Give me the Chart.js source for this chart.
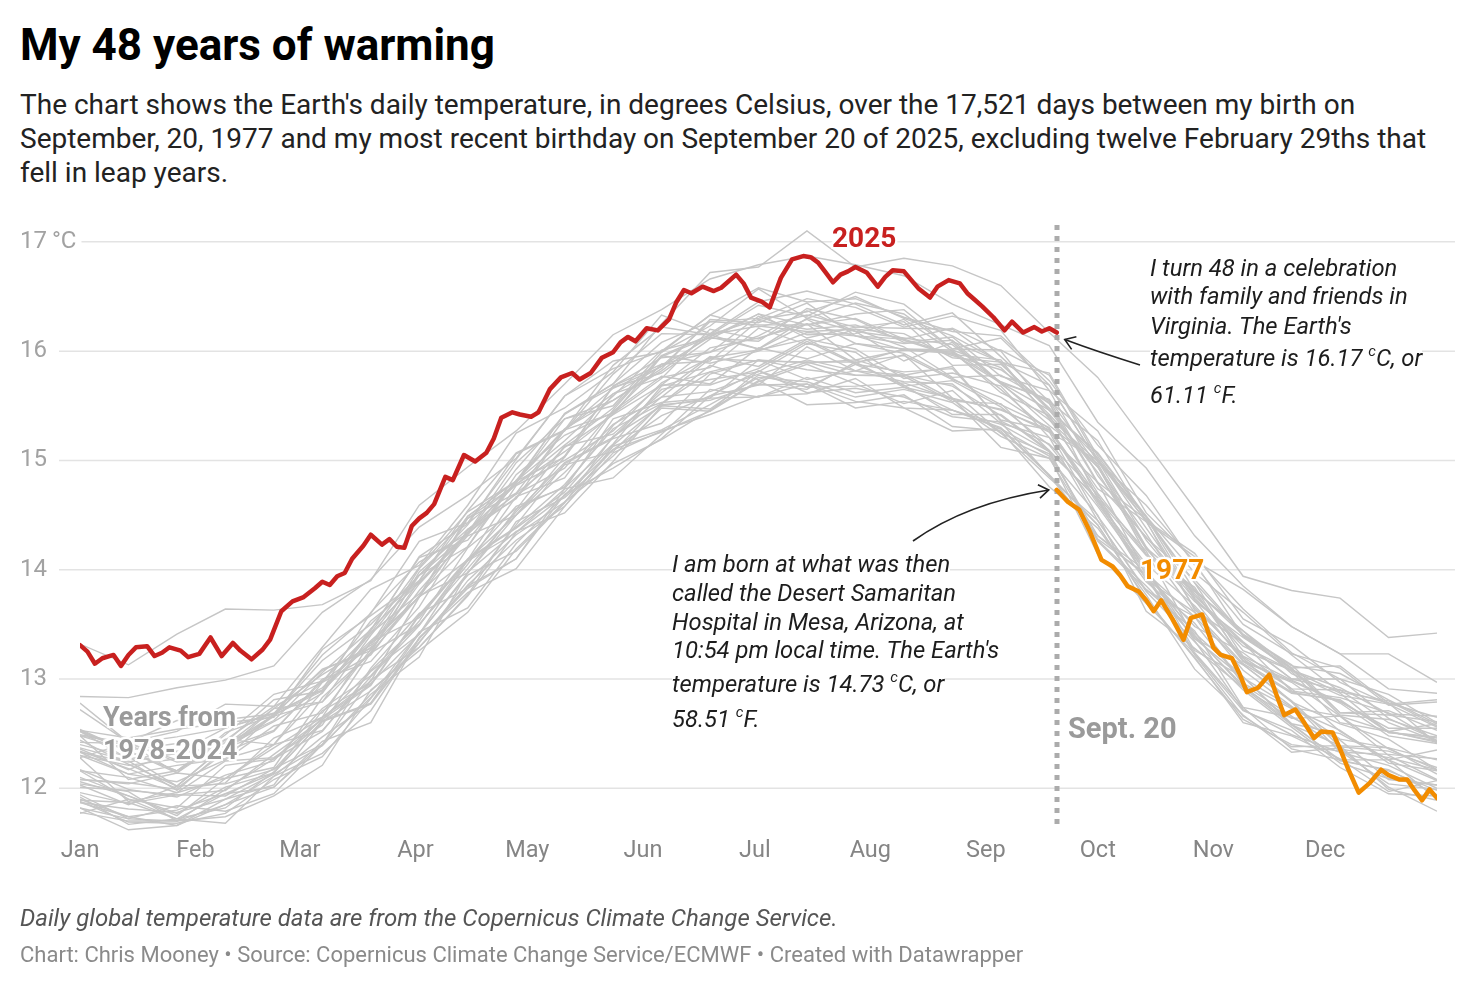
<!DOCTYPE html>
<html>
<head>
<meta charset="utf-8">
<script src="https://cdn.jsdelivr.net/npm/chart.js@4.4.1/dist/chart.umd.min.js"></script>
<style>
  body { margin: 0; width: 1476px; height: 988px; position: relative; overflow: hidden; background: #fff; font-family: Roboto, "Noto Sans", sans-serif; }
  #title { position: absolute; left: 20px; top: 20px; font-size: 44px; line-height: 50px; font-weight: 700; color: #000; white-space: nowrap; }
  #subtitle { position: absolute; left: 20px; top: 88px; font-size: 28px; line-height: 34px; color: #222; white-space: nowrap; }
  #chart { position: absolute; left: 0; top: 0; }
  .ln { position: absolute; font-style: italic; font-size: 23.8px; line-height: 28px; color: #1d1d1d; white-space: nowrap; }
  .ln span { background: #fff; }
  .ln sup { font-size: 15px; line-height: 0; vertical-align: 10px; }
  .tag { position: absolute; font-weight: 700; white-space: nowrap;
    text-shadow: 2px 2px 0 #fff, -2px -2px 0 #fff, 2px -2px 0 #fff, -2px 2px 0 #fff, 0 2px 0 #fff, 2px 0 0 #fff, 0 -2px 0 #fff, -2px 0 0 #fff, 0 0 5px #fff, 0 0 5px #fff; }
  .foot1 { position: absolute; left: 20px; top: 905px; font-size: 24px; line-height: 26px; font-style: italic; color: #555; white-space: nowrap; }
  .foot2 { position: absolute; left: 20px; top: 942px; font-size: 22px; line-height: 26px; color: #8a8a8a; white-space: nowrap; }
</style>
</head>
<body>
<div id="title">My 48 years of warming</div>
<div id="subtitle">The chart shows the Earth's daily temperature, in degrees Celsius, over the 17,521 days between my birth on<br>September, 20, 1977 and my most recent birthday on September 20 of 2025, excluding twelve February 29ths that<br>fell in leap years.</div>

<canvas id="chart" width="1476" height="988"></canvas>

<div class="ln" style="left:1150px; top:254px;"><span>I turn 48 in a celebration</span></div>
<div class="ln" style="left:1150px; top:282px;"><span>with family and friends in</span></div>
<div class="ln" style="left:1150px; top:312px;"><span>Virginia. The Earth's</span></div>
<div class="ln" style="left:1150px; top:344px;"><span>temperature is 16.17 <sup>c</sup>C, or</span></div>
<div class="ln" style="left:1150px; top:381px;"><span>61.11 <sup>c</sup>F.</span></div>

<div class="ln" style="left:672px; top:550px;"><span>I am born at what was then</span></div>
<div class="ln" style="left:672px; top:579px;"><span>called the Desert Samaritan</span></div>
<div class="ln" style="left:672px; top:608px;"><span>Hospital in Mesa, Arizona, at</span></div>
<div class="ln" style="left:672px; top:636px;"><span>10:54 pm local time. The Earth's</span></div>
<div class="ln" style="left:672px; top:670px;"><span>temperature is 14.73 <sup>c</sup>C, or</span></div>
<div class="ln" style="left:672px; top:705px;"><span>58.51 <sup>c</sup>F.</span></div>

<div class="tag" style="left:832px; top:222px; font-size:28px; line-height:32px; color:#c8201f;">2025</div>
<div class="tag" style="left:1140px; top:554px; font-size:28px; line-height:32px; color:#f28c00;">1977</div>
<div class="tag" style="left:103px; top:701px; font-size:27px; line-height:33px; color:#9a9a9a;">Years from<br>1978-2024</div>
<div class="tag" style="left:1068px; top:711px; font-size:29px; line-height:34px; color:#9a9a9a;">Sept. 20</div>

<div class="foot1">Daily global temperature data are from the Copernicus Climate Change Service.</div>
<div class="foot2">Chart: Chris Mooney • Source: Copernicus Climate Change Service/ECMWF • Created with Datawrapper</div>

<script>
// axis labels
const monthDays = [0, 31, 59, 90, 120, 151, 181, 212, 243, 273, 304, 334];
const monthLabels = ["Jan", "Feb", "Mar", "Apr", "May", "Jun", "Jul", "Aug", "Sep", "Oct", "Nov", "Dec"];
const yTicks = [17, 16, 15, 14, 13, 12];
const yTickLabels = ["17\u2009°C", "16", "15", "14", "13", "12"];
const birthdayDay = 262;

// 2025, Jan 1 to Sept 20 (day of year, °C)
const redDays = [0, 2, 4, 6, 9, 11, 13, 15, 18, 20, 22, 24, 27, 29, 32, 35, 38, 41, 43, 46, 49, 51, 54, 57, 60, 63, 65, 67, 69, 71, 73, 76, 78, 81, 83, 85, 87, 89, 91, 93, 95, 98, 100, 103, 106, 109, 111, 113, 116, 118, 121, 123, 126, 129, 132, 134, 137, 140, 143, 145, 147, 149, 152, 155, 158, 160, 162, 164, 167, 170, 172, 176, 178, 180, 183, 185, 188, 191, 194, 196, 198, 200, 202, 204, 206, 208, 211, 214, 216, 218, 221, 223, 225, 228, 230, 233, 236, 238, 240, 242, 245, 248, 250, 253, 256, 258, 260, 262];
const redTemps = [13.31, 13.25, 13.14, 13.19, 13.22, 13.12, 13.22, 13.29, 13.30, 13.21, 13.24, 13.29, 13.26, 13.20, 13.23, 13.38, 13.21, 13.33, 13.26, 13.18, 13.27, 13.36, 13.62, 13.71, 13.75, 13.83, 13.89, 13.86, 13.94, 13.97, 14.10, 14.22, 14.32, 14.23, 14.28, 14.21, 14.20, 14.40, 14.47, 14.52, 14.60, 14.85, 14.82, 15.05, 14.99, 15.07, 15.20, 15.39, 15.44, 15.42, 15.40, 15.44, 15.65, 15.76, 15.80, 15.74, 15.80, 15.94, 15.99, 16.08, 16.13, 16.09, 16.21, 16.19, 16.29, 16.45, 16.56, 16.53, 16.59, 16.55, 16.58, 16.70, 16.62, 16.49, 16.45, 16.40, 16.67, 16.84, 16.87, 16.86, 16.81, 16.72, 16.63, 16.70, 16.73, 16.77, 16.72, 16.59, 16.68, 16.74, 16.73, 16.65, 16.57, 16.49, 16.59, 16.65, 16.62, 16.53, 16.47, 16.41, 16.31, 16.19, 16.27, 16.17, 16.22, 16.18, 16.21, 16.17];

// 1977, Sept 20 to Dec 31
const orangeDays = [262, 265, 268, 271, 274, 277, 279, 281, 284, 286, 288, 290, 293, 296, 298, 301, 304, 306, 309, 311, 313, 316, 319, 321, 323, 326, 328, 331, 333, 336, 338, 340, 343, 346, 349, 351, 354, 356, 358, 360, 362, 364];
const orangeTemps = [14.73, 14.62, 14.55, 14.34, 14.09, 14.03, 13.95, 13.85, 13.80, 13.72, 13.62, 13.72, 13.55, 13.36, 13.56, 13.59, 13.29, 13.22, 13.19, 13.05, 12.88, 12.92, 13.04, 12.85, 12.67, 12.72, 12.62, 12.46, 12.52, 12.51, 12.36, 12.19, 11.96, 12.05, 12.17, 12.12, 12.08, 12.08, 11.98, 11.89, 11.99, 11.91];

// 1978-2024, sampled every 13 days
const greyDays = [0, 13, 26, 39, 52, 65, 78, 91, 104, 117, 130, 143, 156, 169, 182, 195, 208, 221, 234, 247, 260, 273, 286, 299, 312, 325, 338, 351, 364];
const t1978 = [11.82, 11.62, 11.66, 11.85, 12.01, 12.43, 12.60, 13.38, 13.79, 14.01, 14.58, 15.07, 15.27, 15.42, 15.59, 15.61, 15.75, 15.48, 15.27, 15.29, 15.04, 14.14, 13.69, 13.23, 12.71, 12.53, 12.19, 11.95, 11.93];
const t1979 = [11.87, 11.74, 11.66, 11.90, 12.13, 12.39, 12.86, 13.20, 13.98, 14.35, 14.52, 14.99, 15.50, 15.57, 15.58, 15.76, 15.62, 15.67, 15.57, 15.12, 15.02, 14.50, 13.62, 13.28, 12.92, 12.58, 12.26, 12.16, 11.98];
const t1980 = [11.92, 11.67, 11.72, 11.95, 12.01, 12.40, 12.99, 13.29, 13.77, 14.44, 14.66, 15.04, 15.48, 15.45, 15.72, 15.88, 15.70, 15.52, 15.64, 15.25, 14.84, 14.45, 13.80, 13.34, 12.90, 12.56, 12.23, 12.09, 12.03];
const t1981 = [11.89, 11.87, 11.72, 11.82, 12.15, 12.61, 12.77, 13.33, 13.90, 14.32, 14.62, 15.10, 15.41, 15.59, 15.82, 15.67, 15.68, 15.71, 15.56, 15.25, 15.06, 14.31, 13.99, 13.35, 12.72, 12.49, 12.33, 12.21, 12.00];
const t1982 = [11.88, 11.69, 11.68, 11.77, 12.08, 12.29, 12.82, 13.37, 13.85, 14.10, 14.69, 14.93, 15.20, 15.59, 15.69, 15.70, 15.48, 15.54, 15.46, 15.30, 14.87, 14.41, 13.73, 13.19, 12.63, 12.40, 12.34, 12.04, 11.99];
const t1983 = [11.96, 11.86, 11.94, 11.93, 12.18, 12.40, 13.10, 13.60, 13.83, 14.41, 14.97, 15.20, 15.34, 15.79, 15.92, 15.83, 15.78, 15.77, 15.54, 15.52, 15.09, 14.64, 14.02, 13.26, 13.02, 12.59, 12.50, 12.26, 12.07];
const t1984 = [11.94, 11.72, 11.70, 11.85, 12.11, 12.32, 12.71, 13.37, 13.83, 14.10, 14.74, 14.84, 15.24, 15.65, 15.58, 15.70, 15.54, 15.48, 15.46, 15.29, 14.86, 14.41, 13.72, 13.20, 12.60, 12.48, 12.27, 11.97, 12.07];
const t1985 = [11.78, 11.70, 11.70, 11.74, 11.93, 12.21, 12.90, 13.26, 13.61, 14.19, 14.62, 14.97, 15.19, 15.46, 15.73, 15.51, 15.53, 15.60, 15.31, 15.27, 14.76, 14.38, 13.77, 13.09, 12.67, 12.33, 12.37, 12.01, 11.79];
const t1986 = [11.77, 11.90, 11.72, 11.68, 12.11, 12.47, 12.78, 13.34, 13.86, 14.27, 14.58, 15.13, 15.28, 15.51, 15.76, 15.72, 15.58, 15.65, 15.53, 15.22, 15.02, 14.28, 13.96, 13.24, 12.74, 12.36, 12.26, 12.26, 11.90];
const t1987 = [12.03, 11.85, 12.02, 12.04, 12.17, 12.65, 12.95, 13.59, 14.08, 14.34, 14.74, 15.38, 15.53, 15.57, 15.92, 15.89, 15.92, 15.79, 15.56, 15.47, 15.26, 14.49, 13.89, 13.51, 12.96, 12.73, 12.53, 12.23, 12.16];
const t1988 = [12.06, 11.93, 11.75, 12.09, 12.40, 12.53, 13.02, 13.49, 14.09, 14.58, 14.75, 15.15, 15.68, 15.81, 15.69, 16.04, 15.82, 15.78, 15.86, 15.36, 15.15, 14.69, 13.91, 13.37, 13.13, 12.80, 12.38, 12.34, 12.19];
const t1989 = [11.90, 11.74, 11.80, 11.95, 12.14, 12.62, 12.78, 13.42, 13.95, 14.17, 14.61, 15.22, 15.50, 15.47, 15.78, 15.67, 15.88, 15.69, 15.42, 15.42, 15.09, 14.26, 13.82, 13.44, 12.74, 12.65, 12.44, 12.08, 12.03];
const t1990 = [12.16, 11.90, 11.82, 12.21, 12.27, 12.63, 13.08, 13.50, 14.01, 14.53, 14.98, 15.21, 15.65, 15.74, 15.81, 16.07, 15.99, 15.68, 15.73, 15.49, 15.14, 14.58, 13.97, 13.57, 13.13, 12.79, 12.33, 12.31, 12.27];
const t1991 = [12.01, 11.98, 11.94, 11.98, 12.31, 12.63, 12.94, 13.58, 14.10, 14.39, 14.78, 15.29, 15.52, 15.81, 15.92, 15.74, 15.82, 15.97, 15.57, 15.46, 15.28, 14.60, 14.00, 13.40, 12.92, 12.64, 12.66, 12.30, 12.08];
const t1992 = [11.82, 11.72, 11.84, 11.79, 11.95, 12.40, 12.83, 13.43, 13.65, 14.24, 14.68, 15.10, 15.26, 15.45, 15.82, 15.62, 15.66, 15.58, 15.40, 15.35, 14.86, 14.31, 13.94, 13.22, 12.66, 12.38, 12.39, 11.99, 11.89];
const t1993 = [11.87, 11.81, 11.78, 11.90, 12.03, 12.61, 12.89, 13.29, 13.76, 14.34, 14.68, 15.14, 15.51, 15.55, 15.70, 15.65, 15.90, 15.67, 15.46, 15.33, 15.08, 14.27, 13.85, 13.39, 12.94, 12.59, 12.25, 12.17, 11.94];
const t1994 = [12.10, 11.93, 11.77, 12.01, 12.14, 12.71, 12.96, 13.41, 14.09, 14.38, 14.71, 15.21, 15.58, 15.63, 15.79, 15.92, 15.82, 15.72, 15.70, 15.34, 15.21, 14.45, 13.81, 13.57, 12.95, 12.66, 12.36, 12.28, 12.17];
const t1995 = [12.28, 11.88, 11.96, 12.25, 12.28, 12.58, 13.24, 13.76, 13.97, 14.55, 15.13, 15.24, 15.62, 15.95, 15.86, 16.11, 16.02, 15.75, 15.80, 15.68, 15.21, 14.80, 13.96, 13.48, 13.24, 12.91, 12.52, 12.26, 12.35];
const t1996 = [12.04, 11.97, 11.70, 11.99, 12.27, 12.52, 13.07, 13.41, 13.97, 14.50, 14.96, 15.08, 15.52, 15.87, 15.74, 15.90, 15.78, 15.78, 15.68, 15.41, 15.08, 14.65, 13.96, 13.42, 13.02, 12.58, 12.39, 12.37, 12.13];
const t1997 = [12.16, 12.10, 11.96, 12.09, 12.37, 12.65, 13.34, 13.56, 14.09, 14.77, 15.00, 15.27, 15.71, 15.94, 16.01, 16.11, 15.89, 16.02, 15.99, 15.65, 15.26, 15.00, 14.27, 13.73, 13.33, 12.89, 12.83, 12.69, 12.43];
const t1998 = [12.48, 12.35, 12.41, 12.41, 12.62, 13.06, 13.45, 14.11, 14.27, 14.80, 15.43, 15.67, 15.80, 16.11, 16.34, 16.24, 16.30, 16.11, 15.97, 15.92, 15.38, 14.74, 14.44, 13.72, 13.16, 12.88, 12.80, 12.52, 12.42];
const t1999 = [12.17, 11.99, 11.92, 12.12, 12.25, 12.73, 13.03, 13.53, 14.20, 14.56, 14.76, 15.32, 15.69, 15.69, 15.84, 16.09, 15.88, 15.81, 15.84, 15.37, 15.28, 14.63, 13.91, 13.61, 13.08, 12.75, 12.45, 12.37, 12.26];
const t2000 = [12.08, 12.05, 11.99, 12.05, 12.46, 12.65, 12.98, 13.75, 14.09, 14.50, 14.89, 15.33, 15.58, 15.93, 15.91, 15.90, 15.90, 15.96, 15.74, 15.58, 15.29, 14.67, 14.17, 13.37, 13.01, 12.74, 12.66, 12.36, 12.17];
const t2001 = [12.34, 12.18, 12.00, 12.33, 12.52, 13.00, 13.16, 13.66, 14.37, 14.69, 14.93, 15.46, 15.96, 15.89, 16.00, 16.17, 16.14, 16.01, 16.00, 15.62, 15.41, 14.70, 14.14, 13.84, 13.16, 12.97, 12.66, 12.52, 12.43];
const t2002 = [12.44, 12.22, 12.02, 12.39, 12.73, 12.79, 13.24, 13.98, 14.37, 14.65, 15.28, 15.43, 15.75, 16.20, 16.11, 16.29, 16.07, 16.02, 16.01, 15.85, 15.42, 14.94, 14.33, 13.65, 13.21, 12.99, 12.79, 12.55, 12.55];
const t2003 = [12.36, 12.17, 12.34, 12.37, 12.53, 12.98, 13.29, 13.95, 14.33, 14.70, 15.04, 15.68, 15.88, 15.91, 16.28, 16.20, 16.24, 16.10, 15.96, 15.83, 15.52, 14.79, 14.30, 13.78, 13.26, 13.08, 12.87, 12.51, 12.47];
const t2004 = [12.30, 12.13, 12.21, 12.27, 12.40, 12.97, 13.22, 13.81, 14.31, 14.50, 15.03, 15.61, 15.76, 15.85, 16.21, 16.06, 16.20, 16.04, 15.76, 15.78, 15.53, 14.65, 14.13, 13.81, 13.17, 12.98, 12.78, 12.48, 12.41];
const t2005 = [12.33, 12.24, 12.32, 12.38, 12.61, 12.87, 13.46, 13.88, 14.32, 14.81, 15.28, 15.61, 15.86, 16.13, 16.34, 16.12, 16.22, 16.27, 15.87, 15.88, 15.48, 15.02, 14.38, 13.76, 13.34, 13.00, 13.00, 12.64, 12.44];
const t2006 = [12.37, 12.25, 11.98, 12.36, 12.67, 12.89, 13.33, 13.75, 14.36, 14.78, 15.08, 15.42, 15.95, 16.13, 16.02, 16.25, 16.14, 16.07, 16.10, 15.71, 15.46, 14.89, 14.19, 13.71, 13.38, 13.09, 12.67, 12.63, 12.48];
const t2007 = [12.48, 12.08, 12.16, 12.45, 12.40, 12.88, 13.42, 13.78, 14.21, 14.87, 15.23, 15.44, 15.88, 15.99, 16.14, 16.37, 16.18, 15.91, 16.08, 15.70, 15.37, 14.94, 14.20, 13.82, 13.40, 13.07, 12.60, 12.52, 12.59];
const t2008 = [12.08, 12.04, 12.14, 12.09, 12.19, 12.83, 13.24, 13.50, 14.05, 14.67, 14.84, 15.45, 15.77, 15.70, 16.03, 15.93, 16.07, 15.98, 15.75, 15.51, 15.30, 14.62, 14.05, 13.67, 13.19, 12.79, 12.59, 12.45, 12.17];
const t2009 = [12.40, 12.29, 12.02, 12.39, 12.67, 12.92, 13.35, 13.75, 14.47, 14.78, 15.14, 15.48, 15.96, 16.15, 16.02, 16.30, 16.18, 16.12, 16.06, 15.71, 15.56, 14.95, 14.14, 13.80, 13.44, 13.10, 12.69, 12.71, 12.53];
const t2010 = [12.53, 12.34, 12.16, 12.42, 12.81, 12.89, 13.44, 14.12, 14.42, 14.79, 15.38, 15.55, 15.84, 16.29, 16.26, 16.44, 16.14, 16.11, 16.21, 16.00, 15.46, 15.06, 14.48, 13.74, 13.30, 13.08, 12.92, 12.68, 12.66];
const t2011 = [12.33, 12.13, 12.06, 12.26, 12.57, 12.69, 13.27, 13.87, 14.34, 14.66, 15.12, 15.42, 15.69, 16.03, 16.12, 16.25, 15.92, 16.01, 15.98, 15.71, 15.32, 14.97, 14.21, 13.61, 13.14, 12.87, 12.81, 12.51, 12.46];
const t2012 = [12.30, 12.21, 12.27, 12.35, 12.66, 12.79, 13.40, 13.95, 14.21, 14.82, 15.29, 15.55, 15.82, 16.15, 16.23, 16.18, 16.20, 16.16, 15.94, 15.90, 15.39, 14.99, 14.45, 13.63, 13.33, 13.00, 12.90, 12.60, 12.43];
const t2013 = [12.28, 12.42, 12.24, 12.27, 12.68, 13.08, 13.28, 13.76, 14.49, 14.81, 15.03, 15.68, 15.94, 15.99, 16.32, 16.15, 16.16, 16.29, 16.00, 15.72, 15.55, 14.80, 14.46, 13.88, 13.20, 12.91, 12.90, 12.78, 12.41];
const t2014 = [12.54, 12.34, 12.14, 12.51, 12.67, 13.09, 13.26, 13.90, 14.49, 14.81, 15.18, 15.59, 16.01, 16.12, 16.09, 16.39, 16.29, 16.08, 16.13, 15.77, 15.64, 14.86, 14.29, 13.91, 13.41, 13.13, 12.69, 12.67, 12.61];
const t2015 = [12.52, 12.27, 12.32, 12.55, 12.69, 12.90, 13.61, 14.07, 14.33, 14.92, 15.42, 15.70, 16.08, 16.27, 16.30, 16.48, 16.40, 16.22, 16.32, 16.19, 15.64, 15.27, 14.52, 14.08, 13.82, 13.48, 13.23, 12.91, 12.87];
const t2016 = [12.84, 12.83, 12.92, 12.99, 13.12, 13.61, 13.91, 14.39, 14.68, 15.02, 15.59, 15.91, 15.99, 16.23, 16.57, 16.30, 16.44, 16.34, 16.02, 16.12, 15.69, 14.99, 14.59, 14.07, 13.39, 13.10, 13.12, 12.78, 12.65];
const t2017 = [12.53, 12.46, 12.54, 12.60, 12.65, 13.27, 13.58, 13.90, 14.54, 15.07, 15.28, 15.87, 16.22, 16.15, 16.42, 16.32, 16.54, 16.43, 16.09, 15.90, 15.80, 15.04, 14.44, 14.12, 13.64, 13.24, 13.00, 12.86, 12.60];
const t2018 = [12.49, 12.41, 12.14, 12.44, 12.75, 12.97, 13.53, 13.89, 14.34, 14.98, 15.38, 15.50, 15.99, 16.33, 16.22, 16.33, 16.22, 16.21, 16.20, 15.89, 15.46, 15.07, 14.49, 13.81, 13.44, 13.05, 12.85, 12.77, 12.56];
const t2019 = [12.72, 12.42, 12.62, 12.63, 12.68, 13.22, 13.60, 14.26, 14.43, 15.01, 15.59, 15.84, 16.00, 16.33, 16.58, 16.45, 16.48, 16.31, 16.18, 16.14, 15.73, 15.14, 14.68, 14.04, 13.50, 13.23, 13.10, 12.76, 12.79];
const t2020 = [12.78, 12.42, 12.52, 12.77, 12.75, 13.29, 13.82, 14.04, 14.59, 15.25, 15.48, 15.81, 16.33, 16.16, 16.45, 16.55, 16.43, 16.24, 16.35, 15.95, 15.54, 15.18, 14.45, 14.15, 13.55, 13.31, 12.97, 12.77, 12.81];
const t2021 = [12.42, 12.41, 12.26, 12.35, 12.73, 13.04, 13.31, 14.01, 14.47, 14.70, 15.28, 15.66, 15.86, 16.27, 16.24, 16.24, 16.34, 16.38, 16.02, 16.01, 15.78, 15.01, 14.48, 13.88, 13.40, 13.12, 13.05, 12.81, 12.59];
const t2022 = [12.48, 12.41, 12.47, 12.55, 12.68, 13.17, 13.50, 13.95, 14.41, 15.06, 15.27, 15.79, 16.16, 16.15, 16.29, 16.36, 16.50, 16.30, 16.14, 15.90, 15.69, 14.99, 14.49, 13.97, 13.61, 13.22, 12.88, 12.80, 12.57];
const t2023 = [12.52, 12.34, 12.16, 12.49, 12.86, 12.98, 13.42, 14.02, 14.53, 14.81, 15.43, 15.70, 16.25, 16.72, 16.77, 17.10, 16.77, 16.85, 16.78, 16.60, 16.17, 15.76, 15.16, 14.56, 13.94, 13.81, 13.74, 13.38, 13.42];
const t2024 = [13.32, 13.13, 13.41, 13.64, 13.63, 13.68, 13.90, 14.59, 14.94, 15.27, 15.70, 16.15, 16.38, 16.66, 16.79, 16.87, 16.79, 16.69, 16.43, 16.24, 16.05, 15.35, 14.93, 14.31, 13.85, 13.48, 13.23, 13.23, 12.97];

const greyYears = [1978, 1979, 1980, 1981, 1982, 1983, 1984, 1985, 1986, 1987, 1988, 1989, 1990, 1991, 1992, 1993, 1994, 1995, 1996, 1997, 1998, 1999, 2000, 2001, 2002, 2003, 2004, 2005, 2006, 2007, 2008, 2009, 2010, 2011, 2012, 2013, 2014, 2015, 2016, 2017, 2018, 2019, 2020, 2021, 2022, 2023, 2024];
const greySeries = [t1978, t1979, t1980, t1981, t1982, t1983, t1984, t1985, t1986, t1987, t1988, t1989, t1990, t1991, t1992, t1993, t1994, t1995, t1996, t1997, t1998, t1999, t2000, t2001, t2002, t2003, t2004, t2005, t2006, t2007, t2008, t2009, t2010, t2011, t2012, t2013, t2014, t2015, t2016, t2017, t2018, t2019, t2020, t2021, t2022, t2023, t2024];

function points(days, temps) {
  return days.map(function (d, i) { return { x: d, y: temps[i] }; });
}

// curved pointer with an open arrow head
function arrow(ctx, x0, y0, cx, cy, x1, y1) {
  ctx.beginPath();
  ctx.moveTo(x0, y0);
  ctx.quadraticCurveTo(cx, cy, x1, y1);
  ctx.stroke();
  var a = Math.atan2(y1 - cy, x1 - cx);
  var L = 12;
  ctx.beginPath();
  ctx.moveTo(x1 - L * Math.cos(a - 0.6), y1 - L * Math.sin(a - 0.6));
  ctx.lineTo(x1, y1);
  ctx.lineTo(x1 - L * Math.cos(a + 0.6), y1 - L * Math.sin(a + 0.6));
  ctx.stroke();
}

var decor = {
  id: "decor",
  beforeDatasetsDraw: function (chart) {
    var ctx = chart.ctx, xs = chart.scales.x, ys = chart.scales.y;
    ctx.save();
    ctx.font = "24px Roboto";
    ctx.textBaseline = "middle";
    ctx.textAlign = "left";
    yTicks.forEach(function (v, i) {
      var py = ys.getPixelForValue(v);
      var w = ctx.measureText(yTickLabels[i]).width;
      ctx.strokeStyle = "#e3e3e3";
      ctx.lineWidth = 1.5;
      ctx.beginPath();
      ctx.moveTo(Math.max(59, 20 + w + 5), py);
      ctx.lineTo(1455, py);
      ctx.stroke();
      ctx.fillStyle = "#a2a2a2";
      ctx.fillText(yTickLabels[i], 20, py);
    });
    ctx.font = "23.5px Roboto";
    ctx.fillStyle = "#858585";
    ctx.textAlign = "center";
    monthDays.forEach(function (d, i) {
      ctx.fillText(monthLabels[i], xs.getPixelForValue(d), 851);
    });
    ctx.restore();
  },
  afterDatasetDraw: function (chart, args) {
    // dashed birthday marker goes over the grey years, under 2025 and 1977
    if (args.index !== 2) return;
    var ctx = chart.ctx, px = Math.round(chart.scales.x.getPixelForValue(birthdayDay));
    ctx.save();
    ctx.strokeStyle = "#ababab";
    ctx.lineWidth = 5;
    ctx.setLineDash([5, 6]);
    ctx.beginPath();
    ctx.moveTo(px, 225);
    ctx.lineTo(px, 826);
    ctx.stroke();
    ctx.restore();
  },
  afterDatasetsDraw: function (chart) {
    var ctx = chart.ctx, xs = chart.scales.x, ys = chart.scales.y;
    var bx = xs.getPixelForValue(birthdayDay);
    ctx.save();
    ctx.strokeStyle = "#222";
    ctx.lineWidth = 1.6;
    var t1x = bx + 8, t1y = ys.getPixelForValue(redTemps[redTemps.length - 1]) + 7;
    arrow(ctx, 1140, 365, 1098, 352, t1x, t1y);
    var t2x = bx - 8, t2y = ys.getPixelForValue(orangeTemps[0]);
    arrow(ctx, 913, 541, 966, 503, t2x, t2y);
    ctx.restore();
  }
};

var datasets = [
  {
    label: "2025",
    data: points(redDays, redTemps),
    borderColor: "#c8201f",
    borderWidth: 4.5,
    borderJoinStyle: "round",
    borderCapStyle: "round",
    pointRadius: 0,
    tension: 0
  },
  {
    label: "1977",
    data: points(orangeDays, orangeTemps),
    borderColor: "#f28c00",
    borderWidth: 4.5,
    borderJoinStyle: "round",
    borderCapStyle: "round",
    pointRadius: 0,
    tension: 0
  }
];
greySeries.forEach(function (vals, k) {
  datasets.push({
    label: String(greyYears[k]),
    data: points(greyDays, vals),
    borderColor: "#c6c6c6",
    borderWidth: 1.4,
    pointRadius: 0,
    tension: 0
  });
});

var ctx = document.getElementById("chart").getContext("2d");
var myChart = new Chart(ctx, {
  type: "line",
  data: { datasets: datasets },
  options: {
    responsive: false,
    animation: false,
    events: [],
    layout: { padding: { left: 80, right: 39, top: 220, bottom: 156 } },
    scales: {
      x: { type: "linear", min: 0, max: 364, display: false },
      y: { type: "linear", min: 11.6, max: 17.2, display: false }
    },
    plugins: { legend: { display: false }, tooltip: { enabled: false } }
  },
  plugins: [decor]
});
</script>
</body>
</html>
